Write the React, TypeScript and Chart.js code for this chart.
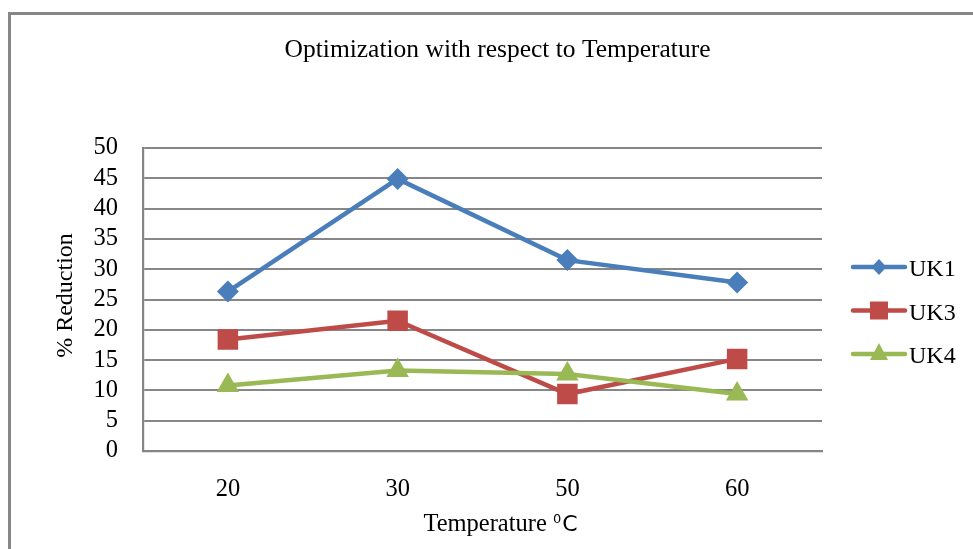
import React, { useEffect, useRef } from 'react';
import { Chart, registerables } from 'chart.js';

Chart.register(...registerables);

const chartTitle = 'Optimization with respect to Temperature';
const xTitleMain = 'Temperature ';
const xTitleSup = '0';
const xTitleUnit = 'C';
const yTitle = '% Reduction';
const categories = ['20', '30', '50', '60'];
const seriesNames = ['UK1', 'UK3', 'UK4'];
const uk1 = [26.3, 44.9, 31.5, 27.8];
const uk3 = [18.4, 21.5, 9.4, 15.2];
const uk4 = [10.8, 13.3, 12.7, 9.4];
const yMin = 0;
const yMax = 50;
const yStep = 5;

const colors = ['#4A7EBB', '#BE4B48', '#98B954'];
const pointStyles = ['rectRot', 'rect', 'triangle'];
const pointRadii = [11, 14.5, 13];

const SERIF = '"Times New Roman", "Liberation Serif", "DejaVu Serif", serif';
const SANS = '"DejaVu Sans", "Liberation Sans", sans-serif';

function drawMarker(ctx: CanvasRenderingContext2D, style: string, x: number, y: number, color: string) {
  ctx.fillStyle = color;
  ctx.beginPath();
  if (style === 'rectRot') {
    const w = 7.5, h = 8;
    ctx.moveTo(x - w, y);
    ctx.lineTo(x, y - h);
    ctx.lineTo(x + w, y);
    ctx.lineTo(x, y + h);
  } else if (style === 'rect') {
    ctx.rect(x - 9, y - 9, 18, 18);
  } else {
    ctx.moveTo(x, y - 11);
    ctx.lineTo(x + 9, y + 6);
    ctx.lineTo(x - 9, y + 6);
  }
  ctx.closePath();
  ctx.fill();
}

const textPlugin = {
  id: 'textPlugin',
  afterDraw(chart: any) {
    const ctx: CanvasRenderingContext2D = chart.ctx;
    const area = chart.chartArea;
    ctx.save();
    ctx.fillStyle = '#000';

    // Title
    ctx.font = `25.5px ${SERIF}`;
    ctx.textAlign = 'center';
    ctx.textBaseline = 'alphabetic';
    ctx.fillText(chartTitle, (area.left + area.right) / 2 + 15, area.top - 91);

    // Y title
    ctx.save();
    ctx.font = `24px ${SERIF}`;
    ctx.translate(area.left - 71, (area.top + area.bottom) / 2 - 4);
    ctx.rotate(-Math.PI / 2);
    ctx.textAlign = 'center';
    ctx.textBaseline = 'alphabetic';
    ctx.fillText(yTitle, 0, 0);
    ctx.restore();

    // X title
    ctx.textAlign = 'left';
    ctx.textBaseline = 'alphabetic';
    ctx.font = `24.5px ${SERIF}`;
    const w1 = ctx.measureText(xTitleMain).width;
    ctx.font = `13px ${SANS}`;
    const w2 = ctx.measureText(xTitleSup).width;
    ctx.font = `22px ${SANS}`;
    const w3 = ctx.measureText(xTitleUnit).width;
    const total = w1 + w2 + w3 + 1;
    let x0 = (area.left + area.right) / 2 + 18 - total / 2;
    const base = area.bottom + 80;
    ctx.font = `24.5px ${SERIF}`;
    ctx.fillText(xTitleMain, x0, base);
    x0 += w1;
    ctx.font = `13px ${SANS}`;
    ctx.fillText(xTitleSup, x0, base - 8);
    x0 += w2 + 1;
    ctx.font = `22px ${SANS}`;
    ctx.fillText(xTitleUnit, x0, base);

    // Legend
    const lx = area.right + 31;
    const ly0 = 267;
    const gap = 43.5;
    chart.data.datasets.forEach((ds: any, i: number) => {
      const y = ly0 + i * gap;
      ctx.strokeStyle = colors[i];
      ctx.lineWidth = 4.5;
      ctx.lineCap = 'round';
      ctx.beginPath();
      ctx.moveTo(lx, y);
      ctx.lineTo(lx + 52, y);
      ctx.stroke();
      drawMarker(ctx, pointStyles[i], lx + 26, y, colors[i]);
      ctx.fillStyle = '#000';
      ctx.font = `24px ${SERIF}`;
      ctx.textAlign = 'left';
      ctx.fillText(ds.label, lx + 56, y + 9);
    });
    ctx.restore();
  },
};

export default function App() {
  const ref = useRef<HTMLCanvasElement | null>(null);

  useEffect(() => {
    if (!ref.current) return;
    const series = [uk1, uk3, uk4];
    const chart = new Chart(ref.current, {
      type: 'line',
      data: {
        labels: categories,
        datasets: series.map((d, i) => ({
          label: seriesNames[i],
          data: d,
          borderColor: colors[i],
          backgroundColor: colors[i],
          borderWidth: 4.5,
          pointStyle: pointStyles[i] as any,
          pointRadius: pointRadii[i],
          pointHoverRadius: pointRadii[i],
          pointBorderWidth: 0,
          pointBackgroundColor: colors[i],
          pointBorderColor: colors[i],
          tension: 0,
          fill: false,
          order: 2 - i,
        })),
      },
      options: {
        responsive: true,
        maintainAspectRatio: false,
        animation: false,
        layout: { padding: { left: 0, top: 148, right: 151, bottom: 0 } },
        plugins: {
          legend: { display: false },
          title: { display: false },
          tooltip: { enabled: false },
        },
        scales: {
          x: {
            type: 'category',
            offset: true,
            grid: { display: false, drawTicks: false },
            border: { display: true, color: '#858585', width: 2.2 },
            ticks: {
              color: '#000',
              font: { family: SERIF, size: 24.5 },
              padding: 24,
              maxRotation: 0,
              autoSkip: false,
            },
            afterFit: (scale: any) => {
              scale.height = 98;
            },
          },
          y: {
            min: yMin,
            max: yMax,
            grid: { color: '#878787', lineWidth: 2, drawTicks: false },
            border: { display: true, color: '#858585', width: 2.2 },
            ticks: {
              stepSize: yStep,
              color: '#000',
              font: { family: SERIF, size: 24.5 },
              padding: 25,
              autoSkip: false,
            },
            afterFit: (scale: any) => {
              scale.width = 143;
            },
          },
        },
      },
      plugins: [textPlugin],
    });
    return () => chart.destroy();
  }, []);

  return (
    <div style={{ position: 'fixed', left: 0, top: 0, width: 973, height: 549, overflow: 'hidden', background: '#fff' }}>
      <div
        style={{
          position: 'absolute',
          left: 8,
          top: 12,
          width: 1000,
          height: 600,
          borderLeft: '3px solid #878787',
          borderTop: '3px solid #878787',
        }}
      />
      <div style={{ position: 'absolute', left: 0, top: 0, width: 973, height: 549 }}>
        <canvas ref={ref} />
      </div>
    </div>
  );
}
